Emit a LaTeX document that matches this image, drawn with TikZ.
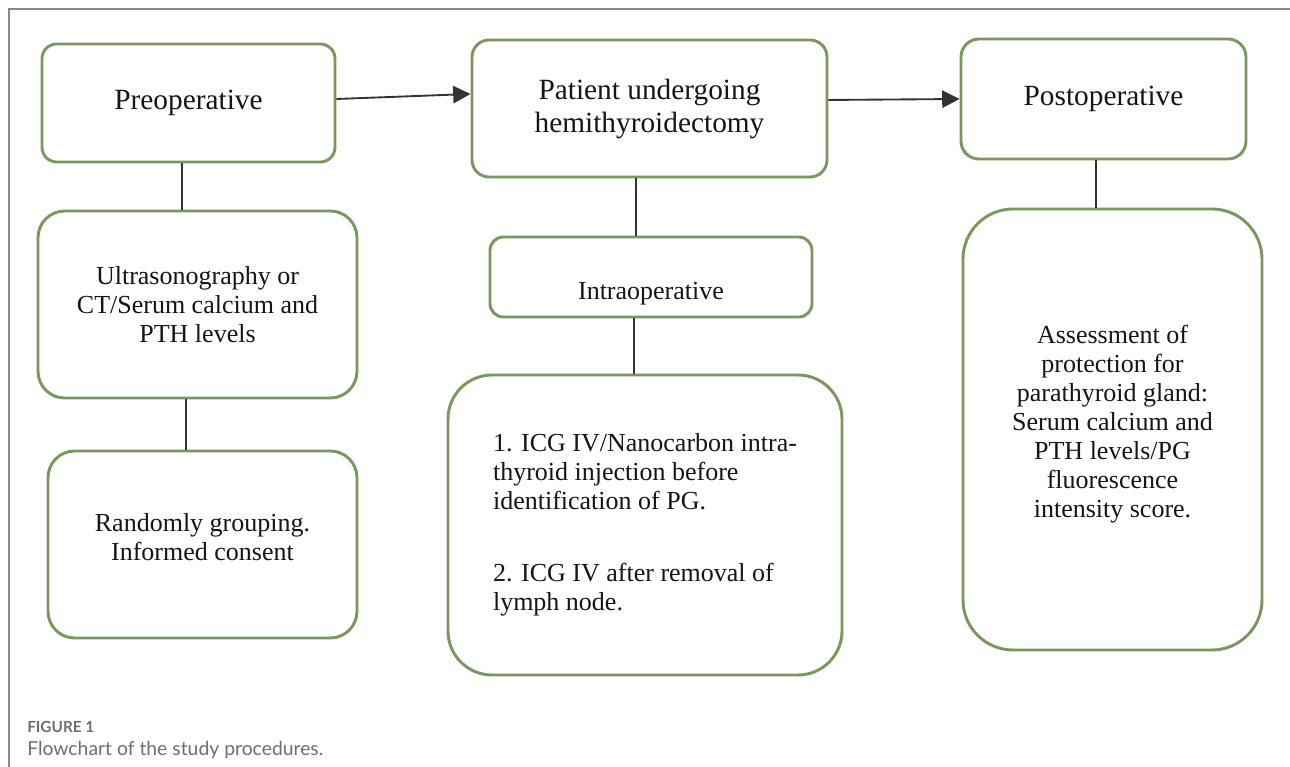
\documentclass[tikz,border=0pt]{standalone}
\usepackage{fontspec}
\setmainfont{Liberation Serif}
\newfontfamily\capfont{Lato}
\usepackage{tikz}
\usetikzlibrary{arrows.meta,positioning}
\definecolor{boxc}{HTML}{7A9760}
\definecolor{linec}{HTML}{333333}
\definecolor{framec}{HTML}{8A8A8A}
\definecolor{capc}{HTML}{6E6E6E}
\definecolor{txtc}{HTML}{151515}
\tikzset{
  ar/.style={-{Triangle[length=13pt,width=13pt]},line width=1.4pt,linec},
  ln/.style={line width=1.4pt,linec},
  box/.style={draw=boxc,line width=2.2pt,fill=white,align=center,text=txtc,inner sep=4pt},
  big/.style={font=\fontsize{22}{24.75}\selectfont},
  sml/.style={font=\fontsize{19.5}{21.75}\selectfont}
}
\begin{document}
\begin{tikzpicture}[x=0.75pt,y=-0.75pt]
\useasboundingbox (0,0) rectangle (1290,767);
\draw[framec,line width=1pt] (1290,9) -- (9,9) -- (9,767);
% top row
\node[box,big,minimum width=219.75pt,minimum height=88.5pt,rounded corners=11pt] (pre) at (188.5,103) {Preoperative};
\node[box,big,minimum width=266.25pt,minimum height=102.75pt,rounded corners=12.75pt] (pat) at (649.5,108.5) {Patient undergoing\\hemithyroidectomy};
\node[box,big,minimum width=213.75pt,minimum height=90pt,rounded corners=13.5pt] (post) at (1103.5,99) {Postoperative};
% columns
\node[box,sml,minimum width=239.25pt,minimum height=140.25pt,rounded corners=20pt] (ultra) at (197.5,304.5) {Ultrasonography or\\CT/Serum calcium and\\PTH levels};
\node[box,sml,minimum width=231.75pt,minimum height=140.25pt,rounded corners=20pt,text depth=12pt] (rnd) at (202.5,544.5) {Randomly grouping.\\Informed consent};
\node[box,sml,minimum width=241.5pt,minimum height=60pt,rounded corners=10pt,text height=34pt,text depth=0pt] (intra) at (651,277) {Intraoperative};
\node[box,sml,align=left,minimum width=295.5pt,minimum height=225pt,rounded corners=33pt] (icg) at (645,525) {1. ICG IV/Nanocarbon intra-\\thyroid injection before\\identification of PG.\\[32pt]2. ICG IV after removal of\\lymph node.};
\node[box,sml,minimum width=224.25pt,minimum height=330.75pt,rounded corners=37.5pt,text depth=12pt] (assess) at (1112.5,429.5) {Assessment of\\protection for\\parathyroid gland:\\Serum calcium and\\PTH levels/PG\\fluorescence\\intensity score.};
% connectors
\draw[ar] ([yshift=3pt]pre.east) -- ([yshift=10.9pt]pat.west);
\draw[ar] ([yshift=6.4pt]pat.east) -- (post.west);
\draw[ln] ([xshift=-5pt]pre.south) -- ([xshift=-5pt]pre.south |- ultra.north);
\draw[ln] ([xshift=-8.5pt]ultra.south) -- ([xshift=-8.5pt]ultra.south |- rnd.north);
\draw[ln] ([xshift=-10pt]pat.south) -- ([xshift=-10pt]pat.south |- intra.north);
\draw[ln] ([xshift=-12.5pt]intra.south) -- ([xshift=-12.5pt]intra.south |- icg.north);
\draw[ln] ([xshift=-5.5pt]post.south) -- ([xshift=-5.5pt]post.south |- assess.north);
% caption
\node[anchor=base west,inner sep=0pt,text=capc,font={\capfont\bfseries\fontsize{11.5}{14}\selectfont}] (fig) at (27,732) {FIGURE 1};
\node[anchor=base west,inner sep=0pt,text=capc,font={\capfont\fontsize{14.5}{17}\selectfont}] (cap) at (27,755) {Flowchart of the study procedures.};
\end{tikzpicture}
\end{document}
